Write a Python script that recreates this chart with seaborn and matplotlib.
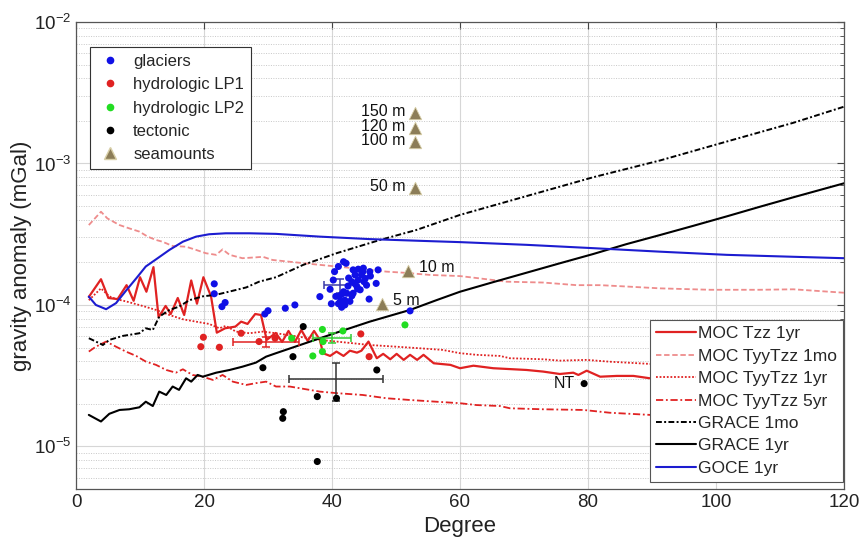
import numpy as np
import pandas as pd
import matplotlib
matplotlib.use("Agg")
import matplotlib.pyplot as plt
import seaborn as sns
from matplotlib.lines import Line2D
from matplotlib.ticker import LogLocator, NullFormatter, LogFormatterMathtext

# ---------------- data (degree, gravity anomaly in mGal) ----------------
moc_tzz_1yr_deg = [2.0, 3.9, 5.05, 6.5, 7.9, 9.0, 10.0, 11.0, 12.1, 12.9, 14.0, 14.8, 15.9, 16.9, 18.0, 18.9,
                   19.9, 21.1, 22.0, 23.3, 24.9, 25.8, 26.8, 28.0, 28.9, 29.8, 31.2, 32.2, 33.2, 34.2, 35.2,
                   36.2, 37.2, 38.1, 38.6, 39.7, 40.7, 41.8, 42.8, 43.9, 44.6, 45.7, 47.0, 48.0, 49.1, 50.1,
                   51.2, 52.2, 53.3, 54.3, 55.9, 58.5, 60.0, 62.1, 65.2, 70.4, 73.0, 75.6, 77.7, 78.5, 79.8,
                   81.9, 84.5, 87.1, 89.7, 95.0, 105.0, 115.0, 120.0]
moc_tzz_1yr_val = [1.14e-4, 1.52e-4, 1.12e-4, 1.10e-4, 1.38e-4, 1.07e-4, 1.57e-4, 1.24e-4, 1.85e-4, 8.19e-5,
                   9.84e-5, 8.63e-5, 1.12e-4, 8.49e-5, 1.49e-4, 1.02e-4, 1.57e-4, 1.15e-4, 6.37e-5, 6.84e-5,
                   7.03e-5, 7.62e-5, 7.34e-5, 8.63e-5, 8.49e-5, 5.66e-5, 6.34e-5, 5.48e-5, 6.55e-5, 5.48e-5,
                   6.65e-5, 5.57e-5, 6.55e-5, 5.66e-5, 4.56e-5, 4.36e-5, 4.68e-5, 4.36e-5, 4.75e-5, 4.60e-5,
                   4.75e-5, 5.51e-5, 4.20e-5, 4.51e-5, 4.13e-5, 4.51e-5, 4.09e-5, 4.44e-5, 4.09e-5, 4.44e-5,
                   3.87e-5, 3.77e-5, 3.57e-5, 3.72e-5, 3.57e-5, 3.47e-5, 3.38e-5, 3.25e-5, 3.32e-5, 3.20e-5,
                   3.43e-5, 3.11e-5, 3.15e-5, 3.15e-5, 3.03e-5, 2.97e-5, 2.88e-5, 2.83e-5, 2.80e-5]

moc_1mo_deg = [2, 3.9, 4.9, 6.8, 8.3, 9.9, 11.2, 12.5, 13.5, 15.1, 17.2, 18.75, 20.3, 21.9, 22.9, 24.0, 26.0,
               28.1, 29.2, 30.7, 33.4, 38.1, 40.7, 45.9, 48.5, 51.2, 55.3, 60, 63.1, 67.3, 73, 78.2, 81.9,
               86, 91.25, 99.1, 106.9, 112.1, 120]
moc_1mo_val = [3.67e-4, 4.56e-4, 4.09e-4, 3.67e-4, 3.48e-4, 3.30e-4, 3.04e-4, 2.88e-4, 2.80e-4, 2.61e-4,
               2.58e-4, 2.45e-4, 2.32e-4, 2.26e-4, 2.47e-4, 2.26e-4, 2.14e-4, 2.17e-4, 2.19e-4, 2.08e-4,
               2.02e-4, 1.92e-4, 1.87e-4, 1.77e-4, 1.72e-4, 1.69e-4, 1.63e-4, 1.60e-4, 1.54e-4, 1.46e-4,
               1.44e-4, 1.38e-4, 1.38e-4, 1.35e-4, 1.31e-4, 1.28e-4, 1.28e-4, 1.29e-4, 1.22e-4]

moc_1yr_deg = [2, 3.9, 5.2, 6.25, 7.8, 10.4, 12.5, 14.6, 16.7, 18.75, 20.8, 22.4, 23.4, 25, 27.1, 29.2, 31.25,
               34, 38.1, 40.7, 43.3, 45.9, 50, 53.7, 57.3, 60, 62.6, 66.25, 67.8, 73, 75.6, 79.8, 83.4, 89.7,
               100, 110, 120]
moc_1yr_val = [1.08e-4, 1.31e-4, 1.15e-4, 1.10e-4, 1.06e-4, 9.84e-5, 9.22e-5, 8.49e-5, 7.92e-5, 7.62e-5,
               7.34e-5, 6.84e-5, 7.11e-5, 6.48e-5, 6.31e-5, 6.48e-5, 6.31e-5, 6.04e-5, 5.66e-5, 5.51e-5,
               5.36e-5, 5.21e-5, 5.07e-5, 4.94e-5, 4.81e-5, 4.56e-5, 4.44e-5, 4.36e-5, 4.20e-5, 4.13e-5,
               4.04e-5, 4.09e-5, 3.97e-5, 3.83e-5, 3.73e-5, 3.65e-5, 3.57e-5]

moc_5yr_deg = [2, 3.1, 4.7, 6.25, 7.8, 9.4, 10.9, 12.5, 14.1, 15.6, 16.7, 18.2, 19.8, 21.4, 22.9, 24.5, 26.6,
               28.1, 29.7, 31.25, 33.4, 38.1, 40.7, 44.8, 48.5, 52.1, 56.3, 60, 62.6, 66.25, 67.8, 73, 79.3,
               83.4, 89.7, 100, 110, 120]
moc_5yr_val = [4.68e-5, 5.07e-5, 5.51e-5, 5.07e-5, 4.68e-5, 4.36e-5, 3.98e-5, 3.77e-5, 3.47e-5, 3.32e-5,
               3.51e-5, 3.20e-5, 3.11e-5, 2.95e-5, 3.20e-5, 2.87e-5, 2.72e-5, 2.80e-5, 2.87e-5, 2.65e-5,
               2.65e-5, 2.44e-5, 2.38e-5, 2.31e-5, 2.19e-5, 2.13e-5, 2.07e-5, 2.02e-5, 1.96e-5, 1.93e-5,
               1.86e-5, 1.83e-5, 1.81e-5, 1.73e-5, 1.67e-5, 1.64e-5, 1.62e-5, 1.58e-5]

grace_1mo_deg = [2, 3.1, 4.2, 5.2, 7.3, 9.9, 10.9, 12, 13, 14.6, 16.1, 17.7, 19.8, 21.9, 24.5, 26.6, 28.6,
                 31.25, 35.5, 40.7, 47.5, 53.2, 60, 70.4, 80.8, 91.25, 101.7, 112.1, 120]
grace_1mo_val = [5.82e-5, 5.51e-5, 5.21e-5, 5.66e-5, 6.04e-5, 6.31e-5, 6.84e-5, 6.65e-5, 8.26e-5, 9.22e-5,
                 9.73e-5, 1.08e-4, 1.15e-4, 1.18e-4, 1.26e-4, 1.33e-4, 1.46e-4, 1.57e-4, 1.92e-4, 2.32e-4,
                 2.88e-4, 3.39e-4, 4.33e-4, 5.88e-4, 7.99e-4, 1.05e-3, 1.43e-3, 1.94e-3, 2.52e-3]

grace_1yr_deg = [2, 3.9, 5.2, 6.8, 8.3, 9.9, 10.9, 12, 13, 14.1, 15.1, 16.1, 17.2, 18, 19, 19.8, 21.9, 24,
                 26, 28.1, 29.7, 31.25, 35.5, 40.7, 45.9, 52.2, 56.3, 60, 65.2, 70.4, 75.6, 80.8, 86, 91.25,
                 96.5, 101.7, 106.9, 112.1, 120]
grace_1yr_val = [1.67e-5, 1.50e-5, 1.70e-5, 1.81e-5, 1.83e-5, 1.89e-5, 2.07e-5, 1.93e-5, 2.44e-5, 2.31e-5,
                 2.65e-5, 2.51e-5, 3.03e-5, 2.87e-5, 3.20e-5, 3.11e-5, 3.32e-5, 3.47e-5, 3.66e-5, 3.91e-5,
                 4.31e-5, 4.56e-5, 5.30e-5, 6.37e-5, 7.62e-5, 9.22e-5, 1.08e-4, 1.24e-4, 1.45e-4, 1.69e-4,
                 1.97e-4, 2.29e-4, 2.69e-4, 3.12e-4, 3.63e-4, 4.23e-4, 4.95e-4, 5.77e-4, 7.24e-4]

goce_deg = [2, 3.1, 4.7, 6.25, 7.8, 9.4, 10.9, 12.5, 14.6, 16.7, 18.75, 20.8, 23.4, 27.1, 31.25, 38.1, 45.9,
            53.7, 60, 70.4, 80.8, 91.25, 101.7, 112.1, 120]
goce_val = [1.145e-4, 1.0e-4, 9.33e-5, 1.03e-4, 1.26e-4, 1.54e-4, 1.87e-4, 2.10e-4, 2.45e-4, 2.80e-4, 3.04e-4,
            3.16e-4, 3.21e-4, 3.21e-4, 3.18e-4, 3.04e-4, 2.92e-4, 2.84e-4, 2.78e-4, 2.66e-4, 2.52e-4, 2.38e-4,
            2.26e-4, 2.19e-4, 2.14e-4]

glacier_deg = [21.6, 21.6, 22.8, 23.3, 29.5, 30.0, 32.7, 34.2, 38.1, 39.7, 39.9, 40.2, 40.4, 41.0, 41.8, 42.2,
               43.3, 44.1, 44.9, 45.9, 47.2, 46.9, 45.8, 41.5, 42.8, 43.3, 44.4, 42.3, 43.1, 44.1, 45.2, 45.4,
               43.9, 42.0, 41.3, 41.8, 44.6, 43.6, 52.2, 41.2, 42.5, 43.6, 44.8, 42.0, 41.0, 43.1, 44.0, 45.0,
               46.0, 42.6, 41.6, 40.6]
glacier_val = [1.41e-4, 1.20e-4, 9.73e-5, 1.04e-4, 8.63e-5, 9.10e-5, 9.48e-5, 1.00e-4, 1.145e-4, 1.29e-4,
               1.02e-4, 1.50e-4, 1.72e-4, 1.87e-4, 2.02e-4, 1.97e-4, 1.77e-4, 1.79e-4, 1.82e-4, 1.72e-4,
               1.77e-4, 1.42e-4, 1.10e-4, 9.63e-5, 1.06e-4, 1.21e-4, 1.28e-4, 1.21e-4, 1.46e-4, 1.50e-4,
               1.54e-4, 1.38e-4, 1.35e-4, 1.08e-4, 1.06e-4, 1.24e-4, 1.63e-4, 1.63e-4, 9.08e-5, 1.16e-4,
               1.36e-4, 1.41e-4, 1.71e-4, 1.00e-4, 1.02e-4, 1.16e-4, 1.30e-4, 1.46e-4, 1.60e-4, 1.55e-4,
               1.20e-4, 1.15e-4]

lp1_deg = [19.9, 19.5, 22.4, 25.8, 28.6, 31.1, 44.5, 45.8]
lp1_val = [5.91e-5, 5.07e-5, 5.02e-5, 6.31e-5, 5.51e-5, 5.82e-5, 6.24e-5, 4.31e-5]

lp2_deg = [33.7, 38.5, 41.7, 37.0, 38.5, 38.6, 51.4]
lp2_val = [5.82e-5, 6.71e-5, 6.55e-5, 4.36e-5, 4.68e-5, 5.51e-5, 7.23e-5]

tect_deg = [35.5, 33.9, 29.2, 47.0, 37.7, 40.7, 32.4, 32.3, 37.7, 79.4]
tect_val = [7.03e-5, 4.31e-5, 3.60e-5, 3.47e-5, 2.25e-5, 2.19e-5, 1.76e-5, 1.58e-5, 7.82e-6, 2.78e-5]

sea_deg = [53.0, 53.0, 53.0, 53.0, 51.9, 47.8]
sea_val = [2.27e-3, 1.78e-3, 1.43e-3, 6.7e-4, 1.75e-4, 1.02e-4]
sea_labels = ["150 m", "120 m", "100 m", "50 m", "10 m", "5 m"]

# error bars: centre x, centre y, x half-width, y low, y high
err_names = ["glaciers", "hydrologic LP1", "hydrologic LP2", "tectonic"]
err_x = [41.3, 29.7, 40.0, 40.6]
err_y = [1.38e-4, 5.51e-5, 5.87e-5, 2.99e-5]
err_dx = [2.6, 5.2, 2.9, 7.3]
err_ylo = [1.21e-4, 5.07e-5, 5.36e-5, 2.11e-5]
err_yhi = [1.52e-4, 5.94e-5, 6.37e-5, 3.87e-5]

# ---------------- style ----------------
sns.set_theme(style="white")
plt.rcParams['font.family'] = ['Liberation Sans', 'DejaVu Sans']
plt.rcParams['mathtext.fontset'] = 'custom'
plt.rcParams['mathtext.rm'] = 'Liberation Sans'
plt.rcParams['mathtext.it'] = 'Liberation Sans:italic'
plt.rcParams['mathtext.bf'] = 'Liberation Sans:bold'
plt.rcParams['mathtext.default'] = 'regular'

RED = '#e02222'
PINK = '#ee8c8c'
BLUE = '#1c1cd0'
DOT_BLUE = '#1010e6'
GREEN = '#22dd22'
SEA = '#8c7d58'

fig = plt.figure(figsize=(8.59, 5.49), dpi=100)
ax = fig.add_axes([0.0885, 0.1093, 0.894, 0.8506])

line_specs = [
    ("MOC Tzz 1yr", moc_tzz_1yr_deg, moc_tzz_1yr_val, dict(color=RED, linestyle='-', linewidth=1.6)),
    ("MOC TyyTzz 1mo", moc_1mo_deg, moc_1mo_val, dict(color=PINK, linestyle=(0, (3, 1.5)), linewidth=1.3)),
    ("MOC TyyTzz 1yr", moc_1yr_deg, moc_1yr_val, dict(color=RED, linestyle=(0, (1, 1)), linewidth=1.3)),
    ("MOC TyyTzz 5yr", moc_5yr_deg, moc_5yr_val, dict(color=RED, linestyle=(0, (4, 1.5, 1, 1.5)), linewidth=1.3)),
    ("GRACE 1mo", grace_1mo_deg, grace_1mo_val, dict(color='black', linestyle=(0, (3, 1.2, 1, 1.2)), linewidth=1.4)),
    ("GRACE 1yr", grace_1yr_deg, grace_1yr_val, dict(color='black', linestyle='-', linewidth=1.5)),
    ("GOCE 1yr", goce_deg, goce_val, dict(color=BLUE, linestyle='-', linewidth=1.5)),
]

for name, d, v, st in line_specs:
    df = pd.DataFrame({"deg": d, "val": v})
    sns.lineplot(data=df, x="deg", y="val", ax=ax, estimator=None, sort=False, legend=False, zorder=3, **st)

pt_specs = [
    ("glaciers", glacier_deg, glacier_val, DOT_BLUE),
    ("hydrologic LP1", lp1_deg, lp1_val, RED),
    ("hydrologic LP2", lp2_deg, lp2_val, GREEN),
    ("tectonic", tect_deg, tect_val, 'black'),
]
for name, d, v, c in pt_specs:
    df = pd.DataFrame({"deg": d, "val": v})
    sns.scatterplot(data=df, x="deg", y="val", ax=ax, color=c, s=26, edgecolor='none', legend=False, zorder=5)

df_sea = pd.DataFrame({"deg": sea_deg, "val": sea_val, "label": sea_labels})
sns.scatterplot(data=df_sea, x="deg", y="val", ax=ax, color=SEA, marker='^', s=80,
                edgecolor='#d8cfa8', linewidth=0.6, legend=False, zorder=5)

err_colors = ['#3a3aa8', RED, '#33cc33', '#333333']
for i in range(len(err_x)):
    ax.errorbar([err_x[i]], [err_y[i]], xerr=[[err_dx[i]], [err_dx[i]]],
                yerr=[[err_y[i] - err_ylo[i]], [err_yhi[i] - err_y[i]]],
                fmt='none', ecolor=err_colors[i], elinewidth=1.1, capsize=3, capthick=1.1, zorder=4)

# seamount labels
for d, v, lab in zip(sea_deg, sea_val, sea_labels):
    if lab in ("10 m", "5 m"):
        ax.annotate(lab, (d, v), xytext=(8, 2), textcoords='offset points', ha='left', va='center',
                    fontsize=11.5, color='#111111')
    else:
        ax.annotate(lab, (d, v), xytext=(-7, 1), textcoords='offset points', ha='right', va='center',
                    fontsize=11.5, color='#111111')
ax.annotate("NT", (tect_deg[-1], tect_val[-1]), xytext=(-7, 0), textcoords='offset points',
            ha='right', va='center', fontsize=11.5, color='#111111')

# axes
ax.set_yscale('log')
ax.set_xlim(0, 120)
ax.set_ylim(5e-6, 1e-2)
ax.set_xticks([0, 20, 40, 60, 80, 100, 120])
ax.yaxis.set_major_locator(LogLocator(base=10, numticks=10))
ax.yaxis.set_major_formatter(LogFormatterMathtext())
ax.yaxis.set_minor_locator(LogLocator(base=10, subs=np.arange(2, 10), numticks=20))
ax.yaxis.set_minor_formatter(NullFormatter())
ax.set_axisbelow(True)
ax.grid(which='major', axis='both', color='#d6d6d6', linewidth=0.8, linestyle='-')
ax.grid(which='minor', axis='y', color='#c8c8c8', linewidth=0.7, linestyle=(0, (1, 1.5)))
ax.tick_params(which='both', direction='in', top=True, right=True, labelsize=13.5, colors='#444444',
               labelcolor='#222222')
ax.tick_params(which='major', length=5, width=0.8)
ax.tick_params(which='minor', length=3, width=0.6)
for sp in ax.spines.values():
    sp.set_visible(True)
    sp.set_color('#555555')
    sp.set_linewidth(0.9)
ax.set_xlabel("Degree", fontsize=16, color='#222222', labelpad=4)
ax.set_ylabel("gravity anomaly (mGal)", fontsize=16, color='#222222', labelpad=1)

# legends
h1 = [Line2D([], [], marker='o', ls='none', color=DOT_BLUE, markersize=4.5),
      Line2D([], [], marker='o', ls='none', color=RED, markersize=4.5),
      Line2D([], [], marker='o', ls='none', color=GREEN, markersize=4.5),
      Line2D([], [], marker='o', ls='none', color='black', markersize=4.5),
      Line2D([], [], marker='^', ls='none', color=SEA, markersize=9, markeredgecolor='#d8cfa8')]
leg1 = ax.legend(h1, ["glaciers", "hydrologic LP1", "hydrologic LP2", "tectonic", "seamounts"],
                 loc='upper left', bbox_to_anchor=(0.018, 0.946), borderaxespad=0, fontsize=12,
                 frameon=True, fancybox=False, edgecolor='#333333', framealpha=1, handletextpad=0.6,
                 labelspacing=0.5, borderpad=0.4, handlelength=1.6)
leg1.get_frame().set_linewidth(0.8)
ax.add_artist(leg1)

h2 = [Line2D([], [], **st) for _, _, _, st in line_specs]
leg2 = ax.legend(h2, [n for n, _, _, _ in line_specs], loc='lower right', bbox_to_anchor=(0.999, 0.015),
                 borderaxespad=0, fontsize=12.5, frameon=True, fancybox=False, edgecolor='#555555',
                 framealpha=1, handletextpad=0.1, labelspacing=0.42, borderpad=0.35, handlelength=2.3)
leg2.get_frame().set_linewidth(0.8)

fig.savefig("out.png", dpi=100)
